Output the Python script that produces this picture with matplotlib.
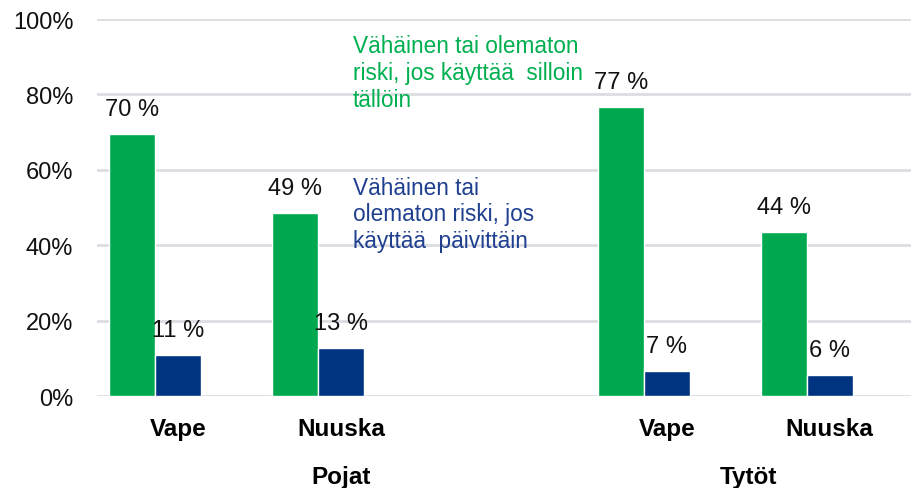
import numpy as np
import matplotlib.pyplot as plt
from matplotlib.ticker import PercentFormatter

# data (middle slot is an empty spacer between groups)
categories = ["Vape", "Nuuska", "", "Vape", "Nuuska"]
occasional = [69.6, 48.6, np.nan, 76.7, 43.6]
daily = [10.8, 12.8, np.nan, 6.6, 5.6]
groups = ["Pojat", "Tytöt"]
group_centers = [1.0, 3.5]

green = "#00A84F"
navy = "#003380"

plt.rcParams['font.family'] = ['Liberation Sans', 'DejaVu Sans']

fig = plt.figure(figsize=(9.19, 4.89), dpi=100)
ax = fig.add_axes([0.1055, 0.188, 0.886, 0.771])

x = np.arange(len(categories))
w = 0.282
b1 = ax.bar(x - w, occasional, w, color=green, edgecolor="white", linewidth=1, zorder=3)
b2 = ax.bar(x, daily, w, color=navy, edgecolor="white", linewidth=1, zorder=3)

for bars, vals in [(b1, occasional), (b2, daily)]:
    for rect, v in zip(bars, vals):
        if np.isnan(v):
            continue
        ax.annotate("{:.0f} %".format(v), (rect.get_x() + rect.get_width() / 2, v),
                    xytext=(0, 10), textcoords="offset points",
                    ha="center", va="bottom", fontsize=17, color="#111111")

ax.set_xlim(-0.5, 4.5)
ax.set_ylim(0, 100)
ax.set_yticks(np.arange(0, 101, 20))
ax.yaxis.set_major_formatter(PercentFormatter(decimals=0))
ax.tick_params(axis="y", length=0, labelsize=17, pad=17, labelcolor="#111111")
ax.set_xticks(x)
ax.set_xticklabels(categories, fontsize=17.5, fontweight="bold")
ax.tick_params(axis="x", length=0, pad=15)
ax.grid(axis="y", color="#DADDE1", linewidth=2, zorder=0)
for s in ax.spines.values():
    s.set_visible(False)

trans = ax.get_xaxis_transform()
for g, c in zip(groups, group_centers):
    ax.text(c, -0.213, g, transform=trans, ha="center", va="center",
            fontsize=17.5, fontweight="bold")

ax.text(1.07, 96.0, "Vähäinen tai olematon\nriski, jos käyttää  silloin\ntällöin",
        color="#00B050", fontsize=16.3, va="top", ha="left", linespacing=1.22)
ax.text(1.07, 58.5, "Vähäinen tai\nolematon riski, jos\nkäyttää  päivittäin",
        color="#1F3F8F", fontsize=16.3, va="top", ha="left", linespacing=1.22)

fig.savefig("out.png", dpi=100)
